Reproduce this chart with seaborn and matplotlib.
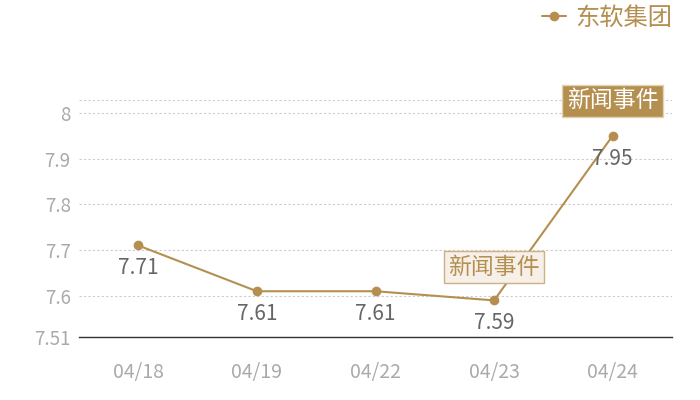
import pandas as pd
import seaborn as sns
import matplotlib.pyplot as plt

dates = ['04/18', '04/19', '04/22', '04/23', '04/24']
prices = [7.71, 7.61, 7.61, 7.59, 7.95]
series_name = '东软集团'
event_label = '新闻事件'
event_dates = ['04/23', '04/24']
y_ticks = [7.51, 7.6, 7.7, 7.8, 7.9, 8]
y_tick_labels = ['7.51', '7.6', '7.7', '7.8', '7.9', '8']

gold = '#b58f4f'

df = pd.DataFrame({'date': dates, 'price': prices, 'stock': series_name})

sns.set_theme(style='white')
plt.rcParams['font.family'] = ['Noto Sans CJK SC', 'DejaVu Sans']

fig = plt.figure(figsize=(7, 4), dpi=100)
ax = fig.add_axes([79 / 700, 63 / 400, 593 / 700, 237 / 400])

sns.lineplot(data=df, x='date', y='price', hue='stock', palette=[gold],
             marker='o', markersize=7, markeredgewidth=0, linewidth=1.5,
             sort=False, ax=ax)

ax.set_xlim(-0.5, len(dates) - 0.5)
ax.set_ylim(7.51, 8.028)
ax.set_yticks(y_ticks + [8.028])
ax.set_yticklabels(y_tick_labels + [''])
ax.grid(axis='y', linestyle=(0, (2, 2)), color='#cccccc', linewidth=0.8)
ax.set_axisbelow(True)
for s in ['top', 'right', 'left']:
    ax.spines[s].set_visible(False)
ax.spines['bottom'].set_color('#333333')
ax.spines['bottom'].set_linewidth(1)
ax.tick_params(axis='both', length=0, colors='#aaaaaa')
ax.tick_params(axis='x', pad=18, labelsize=14)
ax.tick_params(axis='y', pad=6, labelsize=13.5)
ax.set_xlabel('')
ax.set_ylabel('')

for i, v in enumerate(prices):
    ax.annotate(f'{v:.2f}', (i, v), xytext=(0, -16.5), textcoords='offset points',
                ha='center', va='center', fontsize=15, color='#666666', zorder=4)

# event markers
i1 = dates.index(event_dates[0])
ax.annotate(event_label, (i1, prices[i1]), xytext=(0, 24), textcoords='offset points',
            ha='center', va='center', fontsize=16.5, color=gold, zorder=5,
            bbox=dict(boxstyle='square,pad=0.2', fc='#f6f0e8', ec='#cdb184', lw=1))
i2 = dates.index(event_dates[1])
ax.annotate(event_label, (i2, prices[i2]), xytext=(0, 25), textcoords='offset points',
            ha='center', va='center', fontsize=16.5, color='white', zorder=5,
            bbox=dict(boxstyle='square,pad=0.2', fc=gold, ec='#e3d3b5', lw=1))

leg = ax.legend(loc='center right', bbox_to_anchor=(1.0, 1 + 82 / 237), frameon=False,
                fontsize=17.5, handlelength=1.0, handletextpad=0.35,
                borderaxespad=0, borderpad=0)
for t in leg.get_texts():
    t.set_color(gold)

fig.savefig('out.png', dpi=100)
